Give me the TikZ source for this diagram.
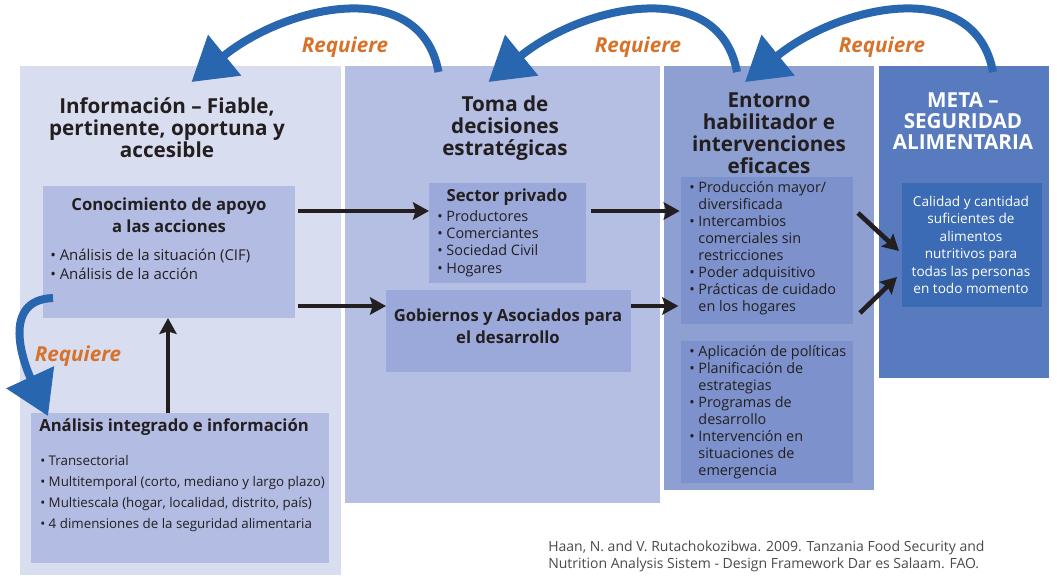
\documentclass[tikz,border=0pt]{standalone}
\usepackage{fontspec}
\setmainfont{Open Sans}
\usepackage{tikz}
\usetikzlibrary{arrows.meta, positioning, fit}

\definecolor{panelA}{HTML}{D9DDF0}
\definecolor{panelB}{HTML}{B5BEE3}
\definecolor{panelC}{HTML}{8E9FD1}
\definecolor{panelD}{HTML}{587ABE}
\definecolor{boxA}{HTML}{B3BCE3}
\definecolor{boxB}{HTML}{9BA9DA}
\definecolor{boxC}{HTML}{7D92CC}
\definecolor{boxD}{HTML}{3A6BB4}
\definecolor{reqblue}{HTML}{2966B0}
\definecolor{reqorange}{HTML}{D6722A}
\definecolor{ink}{HTML}{231F20}
\definecolor{citegray}{HTML}{4A4A4A}

\newcommand{\bul}{\textbullet\ }
\newcommand{\ind}{\hphantom{\textbullet\ }}

\begin{document}
\begin{tikzpicture}[x=0.75pt, y=-0.75pt,
    area/.style={inner sep=0pt, outer sep=0pt},
    heading/.style={align=center, inner sep=0pt, text=ink, font=\bfseries\fontsize{15.5}{16.5}\selectfont},
    title/.style={align=center, inner sep=0pt, text=ink, font=\bfseries\fontsize{12.5}{16.5}\selectfont},
    items/.style={align=left, inner sep=0pt, text=ink, font=\fontsize{10.8}{#1}\selectfont},
    items/.default=13,
    req/.style={inner sep=0pt, text=reqorange, font=\bfseries\itshape\fontsize{15.5}{16}\selectfont},
    needs/.style={line width=6pt, draw=reqblue, -{Triangle[length=32pt,width=38pt]}},
    feeds/.style={line width=3.5pt, draw=ink, -{Stealth[length=12pt,width=13pt,inset=2pt]}}]
  \useasboundingbox (0,0) rectangle (1057,577);

  % the four columns
  \node[area, fill=panelA, fit={(20,66) (341,575)}] (info) {};
  \node[area, fill=panelB, fit={(345,66) (660,503)}] (toma) {};
  \node[area, fill=panelC, fit={(664,66) (874,490)}] (ento) {};
  \node[area, fill=panelD, fit={(879,66) (1049,378)}] (meta) {};

  \node[heading] (infohead) at (167,128) {Información – Fiable,\\pertinente, oportuna y\\accesible};
  \node[heading] (tomahead) at (505,128) {Toma de\\decisiones\\estratégicas};
  \node[heading] (entohead) at (769,133) {Entorno\\habilitador e\\intervenciones\\eficaces};
  \node[heading, text=white, font=\bfseries\fontsize{15.5}{15.5}\selectfont] (metahead) at (963,121) {META –\\SEGURIDAD\\ALIMENTARIA};

  % boxes inside the columns
  \node[area, fill=boxA, fit={(43,186) (295,318)}] (con) {};
  \node[title] (contitle) at (169,215) {Conocimiento de apoyo\\a las acciones};
  \node[items=14.25, anchor=west, font=\fontsize{11.2}{14.25}\selectfont] (conlist) at (50,264.5) {\bul Análisis de la situación (CIF)\\\bul Análisis de la acción};

  \node[area, fill=boxA, fit={(31,413) (329,563)}] (ana) {};
  \node[title, anchor=west] (anatitle) at (39,427) {Análisis integrado e información};
  \node[items=15.75, anchor=west, font=\fontsize{10}{15.75}\selectfont] (analist) at (40,494) {\bul Transectorial\\\bul Multitemporal (corto, mediano y largo plazo)\\\bul Multiescala (hogar, localidad, distrito, país)\\\bul 4 dimensiones de la seguridad alimentaria};

  \node[area, fill=boxB, fit={(429,183) (586,283)}] (sp) {};
  \node[title] (sptitle) at (507,197) {Sector privado};
  \node[items=13.1, anchor=west] (splist) at (437,243.5) {\bul Productores\\\bul Comerciantes\\\bul Sociedad Civil\\\bul Hogares};

  \node[area, fill=boxB, fit={(386,290) (631,372)}] (gob) {};
  \node[title] (gobtitle) at (508,326) {Gobiernos y Asociados para\\el desarrollo};

  \node[area, fill=boxC, fit={(681,177) (853,324)}] (mejora) {};
  \node[items=12.75, anchor=west] (mejoralist) at (689,248) {\bul Producción mayor/\\\ind diversificada\\\bul Intercambios\\\ind comerciales sin\\\ind restricciones\\\bul Poder adquisitivo\\\bul Prácticas de cuidado\\\ind en los hogares};

  \node[area, fill=boxC, fit={(681,341) (853,483)}] (accion) {};
  \node[items=12.75, anchor=west] (accionlist) at (689,412.5) {\bul Aplicación de políticas\\\bul Planificación de\\\ind estrategias\\\bul Programas de\\\ind desarrollo\\\bul Intervención en\\\ind situaciones de\\\ind emergencia};

  \node[area, fill=boxD, fit={(902,183) (1042,307)}] (meta box) {};
  \node[items=13.1, align=center, text=white, font=\fontsize{10.2}{13.1}\selectfont] (metatext) at (971,245) {Calidad y cantidad\\suficientes de\\alimentos\\nutritivos para\\todas las personas\\en todo momento};

  % black flows
  \draw[feeds, shorten <=2pt] (con.east |- 0,211) -- (sp.west |- 0,211);
  \draw[feeds, shorten <=2pt] (con.east |- 0,306) -- (gob.west |- 0,306);
  \draw[feeds, shorten <=4pt, shorten >=1pt] (sp.east |- 0,211) -- (mejora.west |- 0,211);
  \draw[feeds, shorten >=2pt] (gob.east |- 0,306) -- (mejora.west |- 0,306);
  \draw[feeds] ([shift={(5,36)}]mejora.north east) -- ([shift={(-3,68)}]meta box.north west);
  \draw[feeds] ([shift={(7,-11)}]mejora.south east) -- ([shift={(-5,94)}]meta box.north west);
  \draw[feeds] (ana.north -| 168,0) -- (con.south -| 168,0);

  % "Requiere" loops
  \foreach \src/\sx/\dst/\dx in {meta/29/ento/-24, ento/-32/toma/-14, toma/-64/info/11}
    \draw[needs] ([shift={(\sx,6)}]\src.north) .. controls +(-18,-97) and +(95,-77) .. ([shift={(\dx,16)}]\dst.north);
  \draw[needs] ([shift={(10,-20)}]con.south west) .. controls +(-53,2) and +(-24,-52) .. ([shift={(17,3)}]ana.north west);

  \node[req] (req1) at (345,47) {Requiere};
  \node[req] (req2) at (638,47) {Requiere};
  \node[req] (req3) at (882,47) {Requiere};
  \node[req] (req4) at (78,356) {Requiere};

  \node[items=12.75, anchor=west, text=citegray, font=\fontsize{10.5}{12.75}\selectfont] (source) at (548,556.5) {Haan, N. and V. Rutachokozibwa. 2009. Tanzania Food Security and\\Nutrition Analysis Sistem - Design Framework Dar es Salaam. FAO.};
\end{tikzpicture}
\end{document}
